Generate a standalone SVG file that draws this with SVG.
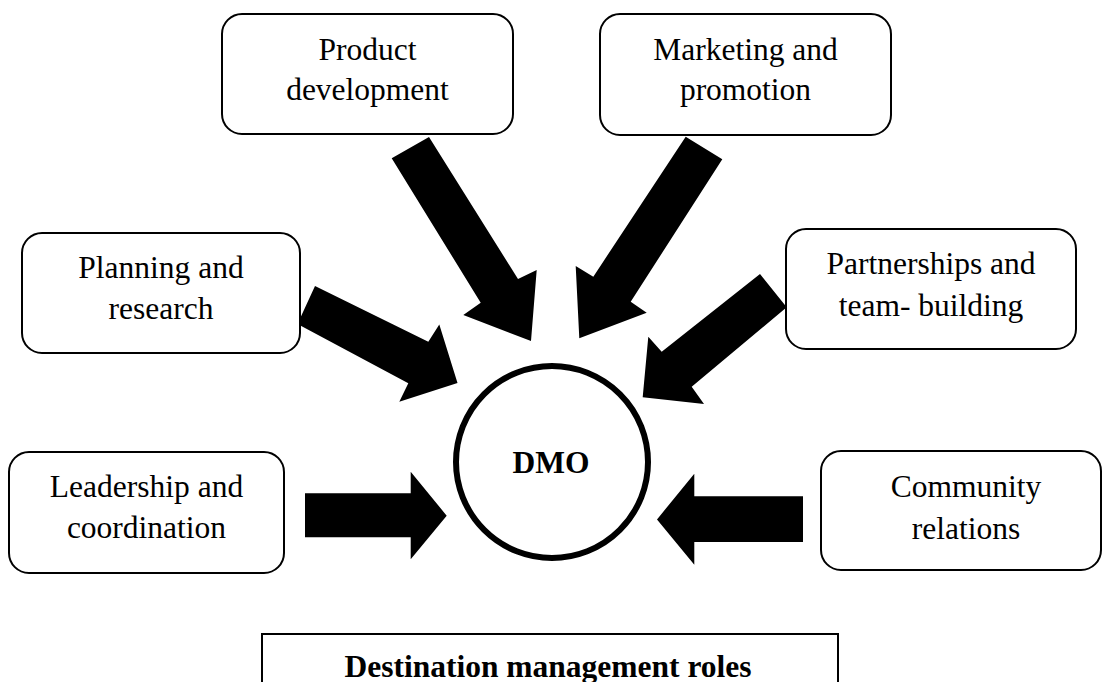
<svg xmlns="http://www.w3.org/2000/svg" width="1103" height="682" viewBox="0 0 1103 682">
  <style>
    .box { fill: #ffffff; stroke: #000000; stroke-width: 2; }
    .lbl { font-family: "Liberation Serif", "Times New Roman", serif; font-size: 31.5px; font-weight: 400; fill: #000000; text-anchor: middle; }
    .bold { font-weight: bold; }
    .arrow { fill: #000000; stroke: none; }
  </style>
  <rect width="1103" height="682" fill="#ffffff"/>

  <!-- block arrows pointing into the DMO circle -->
  <g id="connectors">
    <polygon class="arrow" points="391.7,158.3 429,137 518,279 536.7,270 531,341 463.3,315 480.7,302.7"/>
    <polygon class="arrow" points="685.7,136.7 722.3,159.3 630.7,301.7 646.7,312.7 579.3,338.3 575.7,266 593.3,276.7"/>
    <polygon class="arrow" points="315,286 297.5,324 408.3,383.3 399.3,401.7 457.5,383 439.3,324.5 428.3,341.7"/>
    <polygon class="arrow" points="760,274 786.7,307.3 691.7,386.7 704,404 642.7,397.3 648.3,336.7 661.7,351.7"/>
    <polygon class="arrow" points="305,493.3 410.7,493.3 410.7,471.7 446.7,515.7 410.7,559.3 410.7,537.3 305,537.3"/>
    <polygon class="arrow" points="803,496.2 694.3,496.2 694.3,473.7 657,519.4 694.3,564.7 694.3,541.9 803,541.9"/>
  </g>

  <g id="product-development">
    <rect class="box" x="222" y="14" width="291" height="120" rx="20" ry="20"/>
    <text class="lbl" x="367.5" y="60">Product</text>
    <text class="lbl" x="367.5" y="100">development</text>
  </g>

  <g id="marketing-promotion">
    <rect class="box" x="600" y="14" width="291" height="121" rx="20" ry="20"/>
    <text class="lbl" x="745.5" y="60">Marketing and</text>
    <text class="lbl" x="745.5" y="100">promotion</text>
  </g>

  <g id="planning-research">
    <rect class="box" x="22" y="233" width="278" height="120" rx="20" ry="20"/>
    <text class="lbl" x="161" y="278">Planning and</text>
    <text class="lbl" x="161" y="319">research</text>
  </g>

  <g id="partnerships-team-building">
    <rect class="box" x="786" y="229" width="290" height="120" rx="20" ry="20"/>
    <text class="lbl" x="931" y="274">Partnerships and</text>
    <text class="lbl" x="931" y="316">team- building</text>
  </g>

  <g id="leadership-coordination">
    <rect class="box" x="9" y="452" width="275" height="121" rx="20" ry="20"/>
    <text class="lbl" x="146.5" y="497">Leadership and</text>
    <text class="lbl" x="146.5" y="538">coordination</text>
  </g>

  <g id="community-relations">
    <rect class="box" x="821" y="451" width="280" height="119" rx="20" ry="20"/>
    <text class="lbl" x="966" y="497">Community</text>
    <text class="lbl" x="966" y="539">relations</text>
  </g>

  <g id="dmo">
    <circle cx="552" cy="462" r="96" fill="#ffffff" stroke="#000000" stroke-width="6"/>
    <text class="lbl bold" x="551" y="473">DMO</text>
  </g>

  <g id="title">
    <rect x="262" y="634" width="576" height="80" fill="#ffffff" stroke="#000000" stroke-width="2"/>
    <text class="lbl bold" x="548" y="677">Destination management roles</text>
  </g>
</svg>
